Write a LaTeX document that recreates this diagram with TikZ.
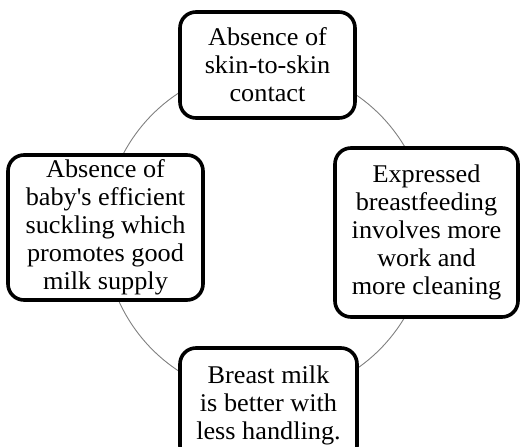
\documentclass[tikz,border=0pt]{standalone}
\usepackage{fontspec}
\setmainfont[FakeStretch=1.03]{Liberation Serif}
\begin{document}
\begin{tikzpicture}[x=1pt,y=-1pt,
  card/.style={draw=black, line width=3.6pt, rounded corners=16pt, fill=white,
    align=center, inner sep=0pt, font=\fontsize{25.5}{28}\selectfont},
  ring/.style={draw=black!50, line width=0.9pt}]
\clip (0,0) rectangle (520,447);
\useasboundingbox (0,0) rectangle (520,447);
\coordinate (c) at (266,232);
\draw[ring] (c) ellipse[x radius=162, y radius=165];
\node[card, minimum width=175pt, minimum height=106pt] (top) at (267.5,65)
  {Absence of\\skin-to-skin\\contact};
\node[card, minimum width=183pt, minimum height=169pt] (right) at (426.5,232.5)
  {Expressed\\breastfeeding\\involves more\\work and\\more cleaning};
\node[card, minimum width=195pt, minimum height=145pt] (left) at (105.5,227.5)
  {Absence of\\baby\textquotesingle s efficient\\suckling which\\promotes good\\milk supply};
\node[card, minimum width=177pt, minimum height=114pt] (bottom) at (268.5,405)
  {Breast milk\\is better with\\less handling.};
\end{tikzpicture}
\end{document}
